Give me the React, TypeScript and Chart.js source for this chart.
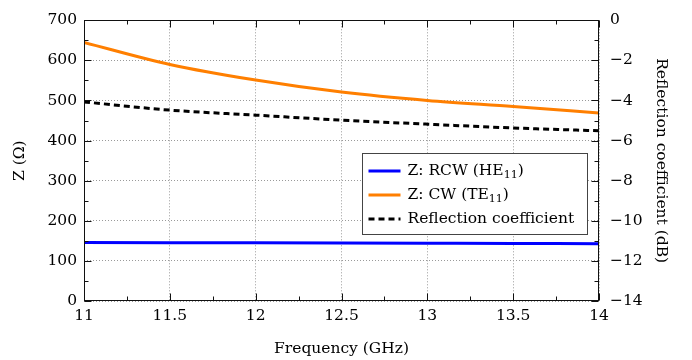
import { useEffect, useRef } from "react";
import { Chart, registerables } from "chart.js";

Chart.register(...registerables);

// Frequency sweep (GHz) and the three measured curves
const frequencyGHz = [11, 11.5, 12, 12.5, 13, 13.5, 14];
const zRcwOhm = [146, 145.5, 145, 144.5, 144, 143.5, 143];
const zCwOhm = [645, 590, 551, 521, 500, 485, 469];
const reflectionDb = [-4.07, -4.48, -4.73, -4.98, -5.18, -5.37, -5.51];

// Labels ("_{..}" marks a subscript in the legend)
const seriesLabels = ["Z: RCW (HE_{11})", "Z: CW (TE_{11})", "Reflection coefficient"];
const xTitle = "Frequency (GHz)";
const yLeftTitle = "Z (\u03A9)";
const yRightTitle = "Reflection coefficient (dB)";

const FONT = '"DejaVu Serif", "Liberation Serif", serif';
const FONT_SIZE = 15.5;
const SUB_SIZE = 11;

const toPoints = (ys: number[]) => frequencyGHz.map((x, i) => ({ x, y: ys[i] }));

// Frame plus inward major/minor tick marks on all four sides
const frameAndTicks = {
  id: "frameAndTicks",
  afterDatasetsDraw(chart: any) {
    const { ctx, chartArea: a, scales } = chart;
    const L = Math.round(a.left) + 0.5;
    const R = Math.round(a.right) - 0.5;
    const T = Math.round(a.top) + 0.5;
    const B = Math.round(a.bottom) - 0.5;
    ctx.save();
    ctx.strokeStyle = "#111";
    ctx.lineWidth = 1;
    ctx.setLineDash([]);
    ctx.strokeRect(L, T, R - L, B - T);

    const majorLen = 7;
    const minorLen = 4;
    const collect = (scale: any) => {
      const vals = scale.ticks.map((t: any) => t.value);
      const out: { v: number; len: number }[] = [];
      vals.forEach((v: number, i: number) => {
        out.push({ v, len: majorLen });
        if (i < vals.length - 1) out.push({ v: (v + vals[i + 1]) / 2, len: minorLen });
      });
      return out;
    };

    ctx.beginPath();
    for (const { v, len } of collect(scales.x)) {
      const px = Math.round(scales.x.getPixelForValue(v)) + 0.5;
      ctx.moveTo(px, B);
      ctx.lineTo(px, B - len);
      ctx.moveTo(px, T);
      ctx.lineTo(px, T + len);
    }
    for (const { v, len } of collect(scales.y)) {
      const py = Math.round(scales.y.getPixelForValue(v)) + 0.5;
      ctx.moveTo(L, py);
      ctx.lineTo(L + len, py);
    }
    for (const { v, len } of collect(scales.y1)) {
      const py = Math.round(scales.y1.getPixelForValue(v)) + 0.5;
      ctx.moveTo(R, py);
      ctx.lineTo(R - len, py);
    }
    ctx.stroke();
    ctx.restore();
  },
};

// Boxed legend inside the plot area, with subscript support
const boxedLegend = {
  id: "boxedLegend",
  afterDraw(chart: any) {
    const { ctx, chartArea: a } = chart;
    const boxW = 225;
    const boxH = 81;
    const x0 = Math.round(a.right - 12 - boxW) + 0.5;
    const y0 = Math.round(a.top + 133) + 0.5;
    ctx.save();
    ctx.fillStyle = "#fff";
    ctx.fillRect(x0, y0, boxW, boxH);
    ctx.strokeStyle = "#444";
    ctx.lineWidth = 1;
    ctx.strokeRect(x0, y0, boxW, boxH);

    chart.data.datasets.forEach((ds: any, i: number) => {
      const cy = y0 + 17.5 + i * 24;
      ctx.beginPath();
      ctx.strokeStyle = ds.borderColor;
      ctx.lineWidth = 3;
      ctx.setLineDash(ds.borderDash || []);
      ctx.moveTo(x0 + 6, cy);
      ctx.lineTo(x0 + 38, cy);
      ctx.stroke();
      ctx.setLineDash([]);

      let tx = x0 + 45;
      ctx.fillStyle = "#000";
      ctx.textBaseline = "middle";
      ctx.textAlign = "left";
      const parts = String(ds.label).split(/_\{([^}]*)\}/);
      parts.forEach((p: string, k: number) => {
        if (!p) return;
        const sub = k % 2 === 1;
        ctx.font = `${sub ? SUB_SIZE : FONT_SIZE}px ${FONT}`;
        ctx.fillText(p, tx, cy + (sub ? 4 : 0));
        tx += ctx.measureText(p).width;
      });
    });
    ctx.restore();
  },
};

export default function App() {
  const canvasRef = useRef<HTMLCanvasElement | null>(null);

  useEffect(() => {
    if (!canvasRef.current) return;
    const tickFont = { family: FONT, size: FONT_SIZE };
    const chart = new Chart(canvasRef.current, {
      type: "line",
      data: {
        datasets: [
          {
            label: seriesLabels[0],
            data: toPoints(zRcwOhm),
            yAxisID: "y",
            borderColor: "#0000ff",
            borderWidth: 3,
            pointRadius: 0,
            cubicInterpolationMode: "monotone",
          },
          {
            label: seriesLabels[1],
            data: toPoints(zCwOhm),
            yAxisID: "y",
            borderColor: "#ff7f00",
            borderWidth: 3,
            pointRadius: 0,
            cubicInterpolationMode: "monotone",
          },
          {
            label: seriesLabels[2],
            data: toPoints(reflectionDb),
            yAxisID: "y1",
            borderColor: "#000000",
            borderWidth: 3,
            borderDash: [6, 4],
            pointRadius: 0,
            cubicInterpolationMode: "monotone",
          },
        ],
      },
      options: {
        responsive: false,
        animation: false,
        events: [],
        layout: { padding: { top: 12, left: 0, right: 0, bottom: 0 } },
        plugins: { legend: { display: false }, tooltip: { enabled: false } },
        scales: {
          x: {
            type: "linear",
            min: 11,
            max: 14,
            ticks: {
              stepSize: 0.5,
              font: tickFont,
              color: "#000",
              padding: 6,
              maxRotation: 0,
              callback: (v: any) => String(v),
            },
            grid: { color: "#9a9a9a", drawTicks: false, lineWidth: 1 },
            border: { display: false, dash: [1, 2] },
            title: {
              display: true,
              text: xTitle,
              font: tickFont,
              color: "#000",
              padding: { top: 0, bottom: 2 },
            },
            afterFit: (s: any) => {
              s.height = 59;
            },
          },
          y: {
            type: "linear",
            position: "left",
            min: 0,
            max: 700,
            ticks: { stepSize: 100, font: tickFont, color: "#000", padding: 7 },
            grid: { color: "#9a9a9a", drawTicks: false, lineWidth: 1 },
            border: { display: false, dash: [1, 2] },
            title: {
              display: true,
              text: yLeftTitle,
              font: tickFont,
              color: "#000",
              padding: { top: 11, bottom: 0 },
            },
            afterFit: (s: any) => {
              s.width = 84;
            },
          },
          y1: {
            type: "linear",
            position: "right",
            min: -14,
            max: 0,
            ticks: {
              stepSize: 2,
              font: tickFont,
              color: "#000",
              padding: 11,
              callback: (v: any) => String(v).replace("-", "\u2212"),
            },
            grid: { display: false, drawTicks: false },
            border: { display: false },
            title: {
              display: true,
              text: yRightTitle,
              font: tickFont,
              color: "#000",
              padding: { top: 22, bottom: 0 },
            },
            afterFit: (s: any) => {
              s.width = 93;
            },
          },
        },
      },
      plugins: [frameAndTicks, boxedLegend],
    } as any);
    return () => chart.destroy();
  }, []);

  return (
    <div style={{ position: "absolute", left: 0, top: 0, width: 692, height: 360, background: "#fff" }}>
      <canvas ref={canvasRef} width={692} height={360} style={{ display: "block" }} />
    </div>
  );
}
